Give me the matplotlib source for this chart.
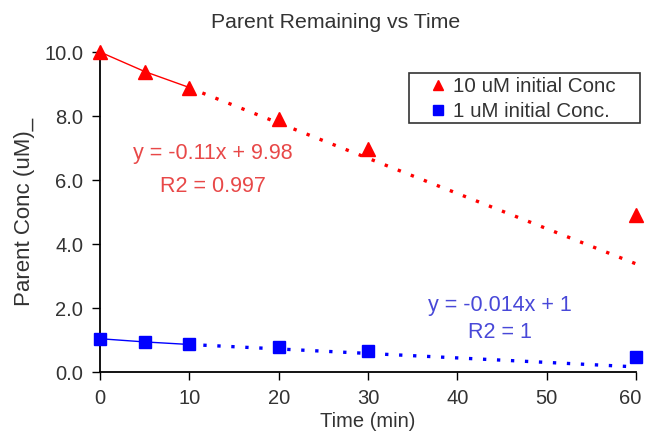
import matplotlib
matplotlib.use("Agg")
import matplotlib.pyplot as plt
from matplotlib.patches import Rectangle
from matplotlib.transforms import ScaledTranslation
import numpy as np

plt.rcParams['font.family'] = ['Liberation Sans', 'DejaVu Sans']

time_min = [0, 5, 10, 20, 30, 60]
conc_10uM = [10.0, 9.39, 8.89, 7.92, 6.97, 4.90]
conc_1uM = [1.04, 0.94, 0.86, 0.79, 0.66, 0.47]
fit_10uM = (-0.11, 9.98)
fit_1uM = (-0.014, 1.0)
x_ticks = [0, 10, 20, 30, 40, 50, 60]
y_ticks = [0, 2, 4, 6, 8, 10]

W, H = 645, 441
fig = plt.figure(figsize=(W/100, H/100), dpi=100)
ax = fig.add_axes([100/W, 69/H, 536/W, 320/H])

red = '#ff0000'
blue = '#0000ff'
txt = '#333333'

# trendlines (dotted), continuing beyond the solid-connected segment
xt = np.array([time_min[2], time_min[-1]])
ax.plot(xt, fit_10uM[0]*xt + fit_10uM[1], color=red, lw=2.4, dashes=(1, 3.2), clip_on=False, zorder=2)
ax.plot(xt, fit_1uM[0]*xt + fit_1uM[1], color=blue, lw=2.4, dashes=(1, 3.2), clip_on=False, zorder=2)

# solid connecting lines for first three points
ax.plot(time_min[:3], conc_10uM[:3], color=red, lw=1, zorder=3, clip_on=False)
ax.plot(time_min[:3], conc_1uM[:3], color=blue, lw=1, zorder=3, clip_on=False)

ax.plot(time_min, conc_10uM, linestyle='none', marker='^', ms=10, color=red,
        label='10 uM initial Conc', clip_on=False, zorder=4)
ax.plot(time_min, conc_1uM, linestyle='none', marker='s', ms=8.5, color=blue,
        label='1 uM initial Conc.', clip_on=False, zorder=4)

ax.set_xlim(0, 60)
ax.set_ylim(0, 10)
ax.set_xticks(x_ticks)
ax.set_yticks(y_ticks)
ax.set_yticklabels([f'{v:.1f}' for v in y_ticks])
for s in ['top', 'right']:
    ax.spines[s].set_visible(False)
for s in ['left', 'bottom']:
    ax.spines[s].set_linewidth(1.3)
ax.tick_params(axis='both', direction='out', length=6, width=1, labelsize=14.5,
               labelcolor=txt, pad=6)
# nudge the last x tick label inward so it fits in the canvas
last = ax.get_xticklabels()[-1]
last.set_transform(last.get_transform() + ScaledTranslation(-6/100, 0, fig.dpi_scale_trans))

ax.set_xlabel('Time (min)', fontsize=14.5, color=txt, labelpad=3)
ax.set_ylabel('Parent Conc (uM)_', fontsize=16, color=txt, labelpad=7)
fig.text(336/W, 1 - 23/H, 'Parent Remaining vs Time', ha='center', va='center',
         fontsize=15.3, color=txt)

red_txt = '#e84848'
blue_txt = '#4848d8'
fig.text(213/W, 1 - 153/H, 'y = -0.11x + 9.98', ha='center', va='center',
         fontsize=15.5, color=red_txt)
fig.text(213/W, 1 - 187/H, 'R2 = 0.997', ha='center', va='center',
         fontsize=15.5, color=red_txt)
fig.text(500/W, 1 - 305/H, 'y = -0.014x + 1', ha='center', va='center',
         fontsize=15.5, color=blue_txt)
fig.text(500/W, 1 - 332/H, 'R2 = 1', ha='center', va='center',
         fontsize=15.5, color=blue_txt)

# legend box frame
fig.patches.append(Rectangle((409/W, 1 - 123/H), 231/W, 50/H, transform=fig.transFigure,
                             fill=False, edgecolor=txt, linewidth=1.2, figure=fig))
leg = ax.legend(loc='center left', bbox_to_anchor=(430/W, 1 - 99/H), bbox_transform=fig.transFigure,
                frameon=False, fontsize=14.8, handlelength=0.8, handletextpad=0.3,
                borderpad=0, labelspacing=0.28, borderaxespad=0)
for t in leg.get_texts():
    t.set_color(txt)
for h in leg.legend_handles:
    h.set_markersize(7)

fig.savefig('out.png', dpi=100)
